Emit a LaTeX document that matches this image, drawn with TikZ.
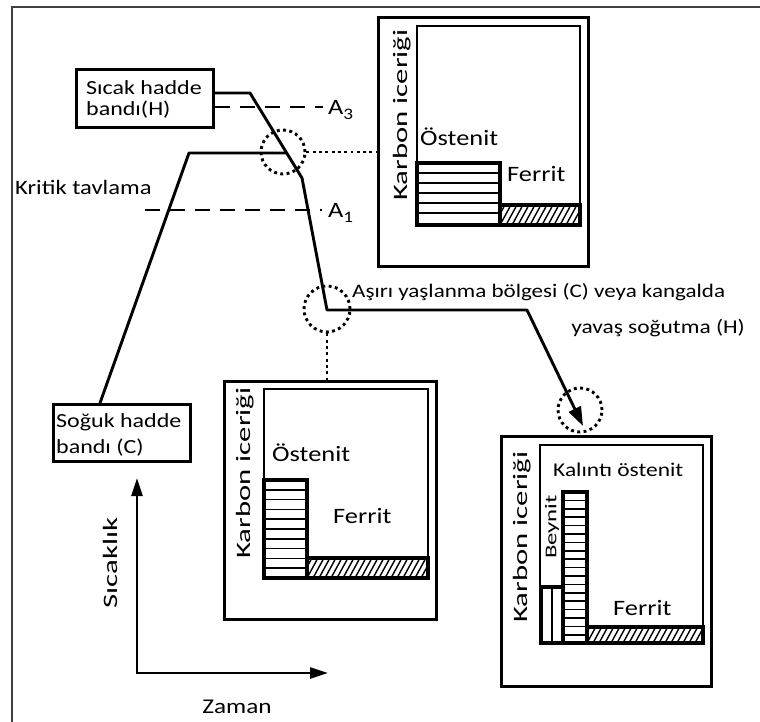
\documentclass[tikz,border=0pt]{standalone}
\usepackage{fontspec}
\setmainfont{Carlito}[FakeStretch=1.2]
\newfontfamily\vfont{Carlito}[FakeStretch=1.5]
\usetikzlibrary{arrows.meta,calc}
\newcommand{\hatchbar}[4]{%
  \begin{scope}
    \clip (#1,#2) rectangle (#3,#4);
    \foreach \xx in {0,6,...,150} \draw[line width=1.4pt] ({#1+\xx-12},#4) -- ++(12,-22);
  \end{scope}
  \draw[bar] (#1,#2) rectangle (#3,#4);}
\tikzset{
  curve/.style={line width=2.9pt, line join=round},
  lbox/.style={draw, line width=3.2pt, anchor=north west},
  panel/.style={draw, line width=3.3pt, anchor=north west},
  frameB/.style={line width=2.5pt},
  bar/.style={line width=3.2pt},
  stripe/.style={line width=1.6pt},
  dashedA/.style={line width=2.9pt, dash pattern=on 15pt off 10pt},
  dotc/.style={line width=2.9pt, dash pattern=on 2.9pt off 3.4pt},
  txt/.style={inner sep=0pt, font=\fontsize{19.5}{22}\selectfont},
  btxt/.style={inner sep=0pt, font=\fontsize{22}{24}\selectfont},
  vtxt/.style={inner sep=0pt, rotate=90, font=\vfont\fontsize{20.5}{22}\selectfont},
  axarrow/.style={line width=2.6pt, {Triangle[length=18pt,width=11pt]}-{Triangle[length=18pt,width=11pt]}},
}
\begin{document}
\begin{tikzpicture}[x=1pt,y=-1pt]
\useasboundingbox (0,0) rectangle (760,722);
% outer frame
\draw[line width=2.2pt, black!75] (760,7) -- (12,7) -- (12,722);

% label boxes
\node[lbox, minimum width=137pt, minimum height=58pt] (hot) at (75,68) {};
\node[txt, anchor=base west, font=\fontsize{20}{22}\selectfont] (hotA) at (86,95) {Sıcak hadde};
\node[txt, anchor=base west, font=\fontsize{20}{22}\selectfont] (hotB) at (86,116) {bandı(H)};
\node[lbox, minimum width=137pt, minimum height=57pt] (cold) at (52,403) {};
\node[txt, anchor=base west, font=\fontsize{20}{22}\selectfont] (coldA) at (56,427) {Soğuk hadde};
\node[txt, anchor=base west, font=\fontsize{20}{22}\selectfont] (coldB) at (56,453) {bandı (C)};

% curve coordinates
\coordinate (h1) at (250,93);
\coordinate (h2) at (302,178);
\coordinate (h3) at (327,310);
\coordinate (h4) at (527,310);
\coordinate (tip3) at (583,426);
\coordinate (k0) at (100,403);
\coordinate (k1) at (189,153);
\coordinate (k2) at ($(h1)!0.706!(h2)$);

% A3 / A1 lines
\coordinate (a3) at (323,107);
\coordinate (a1s) at (145,210);
\coordinate (a1e) at (322,210);
\draw[dashedA] (hot.east |- a3) -- (a3);
\draw[dashedA] (a1s) -- (a1e);
\node[anchor=west, inner sep=0pt, font=\fontsize{22}{24}\selectfont] (A3) at (328,110) {A\raisebox{-0.4ex}{\fontsize{16}{16}\selectfont 3}};
\node[anchor=west, inner sep=0pt, font=\fontsize{22}{24}\selectfont] (A1) at (328,213) {A\raisebox{-0.4ex}{\fontsize{16}{16}\selectfont 1}};

% process curves
\draw[curve, -{Triangle[length=19pt,width=13pt]}] (hot.east |- h1) -- (h1) -- (h2) -- (h3) -- (h4) -- (tip3);
\draw[curve] (cold.north -| k0) -- (k1) -- (k2);

\node[txt, anchor=west, font=\fontsize{20.5}{22}\selectfont] (krit) at (15,187) {Kritik tavlama};
\node[txt, anchor=west, font=\fontsize{19.2}{22}\selectfont] (asiri1) at (352,292) {Aşırı yaşlanma bölgesi (C) veya kangalda};
\node[txt, anchor=east, font=\fontsize{19.5}{22}\selectfont] (asiri2) at (745,328) {yavaş soğutma (H)};

% panels
\node[panel, minimum width=210pt, minimum height=249pt] (box1) at (377,16) {};
\node[panel, minimum width=212pt, minimum height=238pt] (box2) at (223,380) {};
\node[panel, minimum width=210pt, minimum height=250pt] (box3) at (500,435) {};

% dotted circles
\node[draw, dotc, circle, minimum size=44pt, inner sep=0pt] (c1) at (283,152) {};
\node[draw, dotc, circle, minimum size=46pt, inner sep=0pt] (c2) at (327,309) {};
\node[draw, dotc, circle, minimum size=44pt, inner sep=0pt] (c3) at (580,410) {};
\draw[dotc] (c1.east) -- (c1.east -| box1.west);
\draw[dotc] (c2.south) -- (c2.south |- box2.north);

% panel 1 content
\draw[frameB] (417,225) -- (417,26) -- (580,26) -- (580,225);
\foreach \y in {173,183,...,215} \draw[stripe] (417,\y) -- (500,\y);
\draw[bar] (417,163) rectangle (500,225);
\hatchbar{500}{205}{580}{225}
\node[vtxt] (k1t) at (402,115) {Karbon iceriği};
\node[btxt, anchor=west] (ost1) at (420,137) {Östenit};
\node[btxt, anchor=west] (fer1) at (507,174) {Ferrit};

% panel 2 content
\draw[frameB] (264,578) -- (264,389) -- (428,389) -- (428,578);
\foreach \i in {1,...,9} \draw[stripe] (264,{480+\i*9.8}) -- (307,{480+\i*9.8});
\draw[bar] (264,480) rectangle (307,578);
\hatchbar{307}{558}{428}{578}
\node[vtxt] (k2t) at (245,473) {Karbon iceriği};
\node[btxt, anchor=west] (ost2) at (272,453) {Östenit};
\node[btxt, anchor=west] (fer2) at (333,516) {Ferrit};

% panel 3 content
\draw[frameB] (540,643) -- (540,445) -- (703,445) -- (703,643);
\foreach \i in {1,...,17} \draw[stripe] (563,{492+\i*8.4}) -- (587,{492+\i*8.4});
\draw[bar] (563,492) rectangle (587,643);
\draw[stripe] (552,587) -- (552,643);
\draw[bar] (541,587) rectangle (563,643);
\hatchbar{587}{627}{703}{643}
\node[vtxt] (k3t) at (522,537) {Karbon iceriği};
\node[vtxt, font=\vfont\fontsize{16.5}{18}\selectfont] (bey) at (552,527) {Beynit};
\node[txt, anchor=west] (kal) at (553,470) {Kalıntı östenit};
\node[btxt, anchor=west] (fer3) at (613,608) {Ferrit};

% axes
\coordinate (ytip) at (137,478);
\coordinate (xtip) at (328,673);
\draw[axarrow] (ytip) |- (xtip);
\node[vtxt] (sic) at (110,563) {Sıcaklık};
\node[txt, font=\fontsize{21}{22}\selectfont] (zam) at (237,707) {Zaman};
\end{tikzpicture}
\end{document}
